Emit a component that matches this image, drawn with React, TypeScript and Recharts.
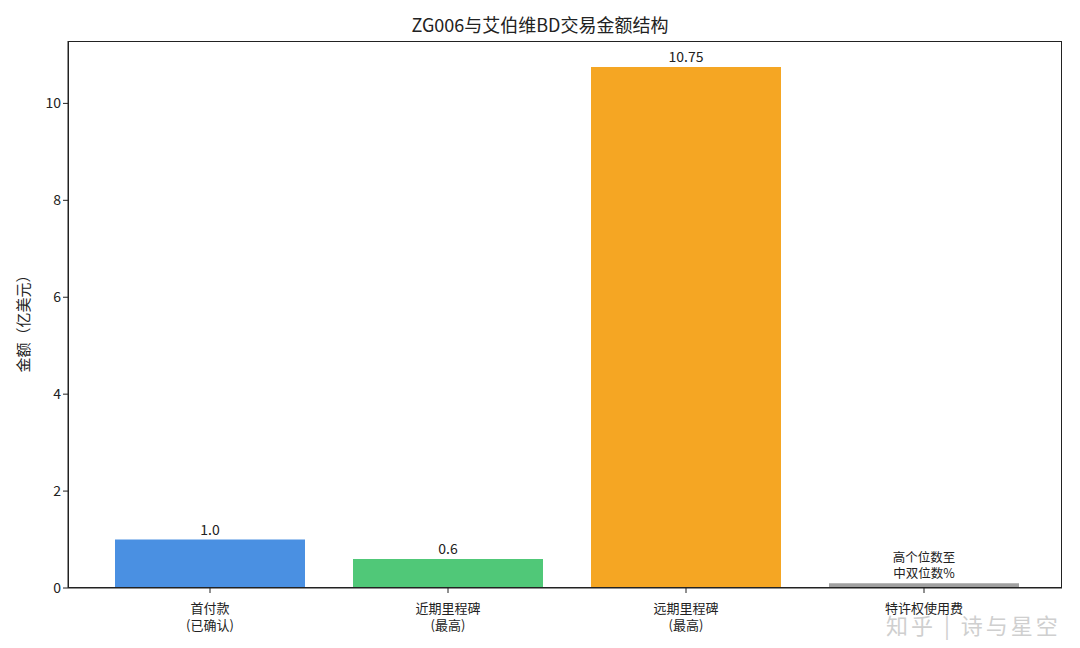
import React from "react";
import {
  BarChart,
  Bar,
  XAxis,
  YAxis,
  Cell,
  LabelList,
} from "recharts";

const categories = ["首付款\n(已确认)", "近期里程碑\n(最高)", "远期里程碑\n(最高)", "特许权使用费"];
const amounts = [1.0, 0.6, 10.75, 0.1];
const barLabels = ["1.0", "0.6", "10.75", "高个位数至\n中双位数%"];
const barColors = ["#4A90E2", "#50C878", "#F5A623", "#A0A0A0"];
const yTicks = [0, 2, 4, 6, 8, 10];

const data = categories.map((name, i) => ({
  name,
  value: amounts[i],
  label: barLabels[i],
}));

const FONT = "'Noto Sans CJK SC', 'Noto Sans', sans-serif";

function CategoryTick(props: any) {
  const { x, y, payload } = props;
  const lines = String(payload.value).split("\n");
  return (
    <g>
      {lines.map((l, i) => (
        <text key={i} x={x} y={y + 18 + i * 17} textAnchor="middle" fill="#222" fontSize={13} fontFamily={FONT}>
          {l}
        </text>
      ))}
    </g>
  );
}

function BarLabel(props: any) {
  const { x, y, width, value } = props;
  const lines = String(value).split("\n");
  const cx = x + width / 2;
  const n = lines.length;
  return (
    <g>
      {lines.map((l, i) => (
        <text
          key={i}
          x={cx}
          y={y - 5 - (n - 1 - i) * 16.5}
          textAnchor="middle"
          fill="#222"
          fontSize={n > 1 ? 12.5 : 14}
          fontFamily={FONT}
        >
          {l}
        </text>
      ))}
    </g>
  );
}

export default function App() {
  return (
    <div style={{ position: "absolute", left: 0, top: 0, width: 1080, height: 648, background: "#fff", fontFamily: FONT }}>
      <div style={{ position: "absolute", top: 11, width: 1080, textAlign: "center", fontSize: 18, color: "#222" }}>
        ZG006与艾伯维BD交易金额结构
      </div>
      <div
        style={{
          position: "absolute",
          left: 22,
          top: 320,
          transform: "translate(-50%, -50%) rotate(-90deg)",
          fontSize: 15,
          color: "#222",
          whiteSpace: "nowrap",
        }}
      >
        金额（亿美元）
      </div>
      <BarChart
        width={1080}
        height={648}
        data={data}
        margin={{ top: 41, right: 18, bottom: 0, left: 0 }}
        barCategoryGap={0}
      >
        <XAxis
          dataKey="name"
          height={60}
          padding={{ left: 23, right: 19 }}
          tick={<CategoryTick />}
          tickLine={{ stroke: "#222" }}
          axisLine={{ stroke: "#222" }}
          tickSize={5}
          interval={0}
        />
        <YAxis
          width={68}
          domain={[0, 11.2875]}
          ticks={yTicks}
          tick={{ fill: "#222", fontSize: 14, fontFamily: FONT }}
          tickLine={{ stroke: "#222" }}
          axisLine={{ stroke: "#222" }}
          tickSize={5}
          allowDataOverflow
        />
        <Bar dataKey="value" barSize={190} isAnimationActive={false}>
          {data.map((d, i) => (
            <Cell key={d.name} fill={barColors[i]} />
          ))}
          <LabelList dataKey="label" content={<BarLabel />} />
        </Bar>
      </BarChart>
      <div
        style={{
          position: "absolute",
          left: 68,
          top: 41,
          width: 994,
          height: 547,
          boxSizing: "border-box",
          border: "1px solid #222",
          pointerEvents: "none",
        }}
      />
      <div
        style={{
          position: "absolute",
          left: 886,
          top: 613,
          fontSize: 22,
          lineHeight: 1,
          color: "#cfcfcf",
          letterSpacing: 3,
          whiteSpace: "nowrap",
        }}
      >
        知乎 | 诗与星空
      </div>
    </div>
  );
}
